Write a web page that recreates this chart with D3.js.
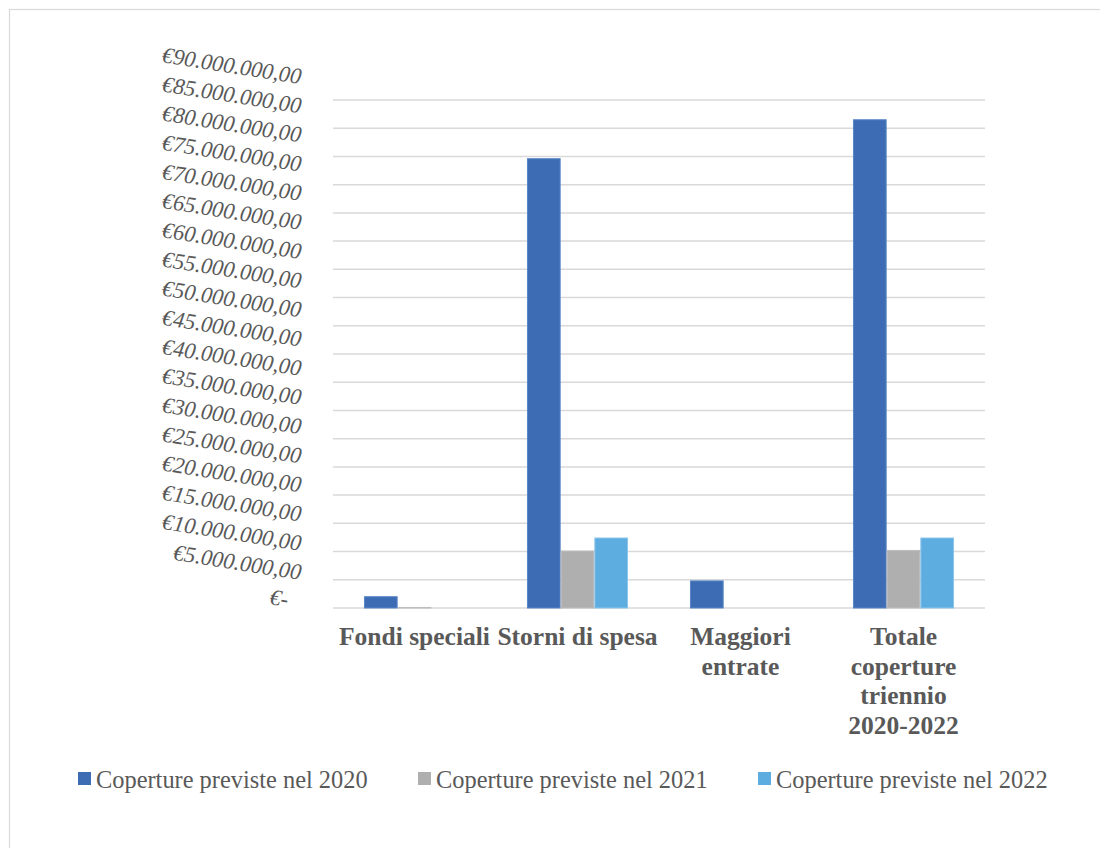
<!DOCTYPE html>
<html>
<head>
<meta charset="utf-8">
<script src="https://cdn.jsdelivr.net/npm/d3@7"></script>
<style>
  html, body { margin: 0; padding: 0; background: #ffffff; }
  svg { display: block; }
</style>
</head>
<body>
<svg id="chart" width="1100" height="848"></svg>
<script>
// ---- data ----
const categories = ["Fondi speciali", "Storni di spesa", "Maggiori entrate", "Totale coperture triennio 2020-2022"];
const seriesNames = ["Coperture previste nel 2020", "Coperture previste nel 2021", "Coperture previste nel 2022"];
const values2020 = [2000000, 79600000, 4800000, 86500000];
const values2021 = [100000, 10100000, 0, 10200000];
const values2022 = [0, 12400000, 0, 12400000];
const seriesColors = ["#3d6cb4", "#afafaf", "#5eade0"];
const seriesStroke = ["#5a86c6", "#bdbdbd", "#8cc4ea"];
const yTicks = [0, 5e6, 10e6, 15e6, 20e6, 25e6, 30e6, 35e6, 40e6, 45e6, 50e6, 55e6, 60e6, 65e6, 70e6, 75e6, 80e6, 85e6, 90e6];

const seriesValues = [values2020, values2021, values2022];

const svg = d3.select("#chart");
const textColor = "#595959";
const serif = "'Liberation Serif', 'Times New Roman', serif";

// chart border
svg.append("rect")
  .attr("x", 9.5).attr("y", 9.5)
  .attr("width", 1120).attr("height", 900)
  .attr("fill", "#ffffff")
  .attr("stroke", "#d9d9d9").attr("stroke-width", 1.2);

const plotLeft = 333, plotRight = 985, plotTop = 100, plotBottom = 608;

const y = d3.scaleLinear().domain([0, 90e6]).range([plotBottom, plotTop]);
const yLabel = d3.scaleLinear().domain([0, 90e6]).range([609, 84]);

const x0 = d3.scaleBand().domain(categories).range([plotLeft, plotRight])
  .paddingInner(0.38).paddingOuter(0.19);
const x1 = d3.scaleBand().domain(d3.range(seriesNames.length)).range([0, x0.bandwidth()]);

// gridlines
svg.append("g").selectAll("line").data(yTicks).join("line")
  .attr("x1", plotLeft).attr("x2", plotRight)
  .attr("y1", d => y(d)).attr("y2", d => y(d))
  .attr("stroke", "#d9d9d9").attr("stroke-width", 1.5);

// y labels
const loc = d3.formatLocale({decimal: ",", thousands: ".", grouping: [3], currency: ["€", ""]});
const fmt = loc.format("$,.2f");
svg.append("g").selectAll("text").data(yTicks).join("text")
  .attr("x", 300).attr("y", d => yLabel(d))
  .attr("dx", d => d === 0 ? -13 : 0)
  .attr("text-anchor", "end")
  .attr("transform", d => `rotate(9, 300, ${yLabel(d)})`)
  .attr("font-family", serif)
  .attr("font-style", "italic")
  .attr("font-size", 22.5)
  .attr("fill", textColor)
  .text(d => d === 0 ? "€-" : fmt(d));

// bars
const groups = svg.append("g").selectAll("g").data(categories).join("g")
  .attr("transform", d => `translate(${x0(d)},0)`);
groups.selectAll("rect")
  .data((c, ci) => seriesValues.map((vals, si) => ({si, v: vals[ci]})))
  .join("rect")
  .attr("x", d => x1(d.si) + 0.5)
  .attr("width", x1.bandwidth() - 1)
  .attr("y", d => y(d.v))
  .attr("height", d => plotBottom - y(d.v))
  .attr("fill", d => seriesColors[d.si])
  .attr("stroke", d => d.v > 0 ? seriesStroke[d.si] : "none")
  .attr("stroke-width", 1);

// x labels (word-wrapped within band step)
const step = x0.step();
const xl = svg.append("g");
categories.forEach(c => {
  const cx = x0(c) + x0.bandwidth() / 2;
  const t = xl.append("text")
    .attr("x", cx).attr("y", 645)
    .attr("text-anchor", "middle")
    .attr("font-family", serif)
    .attr("font-weight", "bold")
    .attr("font-size", 25.5)
    .attr("fill", textColor);
  const words = c.split(" ");
  let line = [];
  let tspan = t.append("tspan").attr("x", cx).attr("dy", 0);
  words.forEach(w => {
    line.push(w);
    tspan.text(line.join(" "));
    if (tspan.node().getComputedTextLength() > step - 2 && line.length > 1) {
      line.pop();
      tspan.text(line.join(" "));
      line = [w];
      tspan = t.append("tspan").attr("x", cx).attr("dy", 29.5).text(w);
    }
  });
});

// legend
const legend = svg.append("g");
seriesNames.forEach((name, i) => {
  const lx = 78 + i * 340;
  legend.append("rect")
    .attr("x", lx).attr("y", 772)
    .attr("width", 13).attr("height", 13)
    .attr("fill", seriesColors[i]);
  legend.append("text")
    .attr("x", lx + 18).attr("y", 788)
    .attr("font-family", serif)
    .attr("font-size", 24.4)
    .attr("fill", textColor)
    .text(name);
});
</script>
</body>
</html>
